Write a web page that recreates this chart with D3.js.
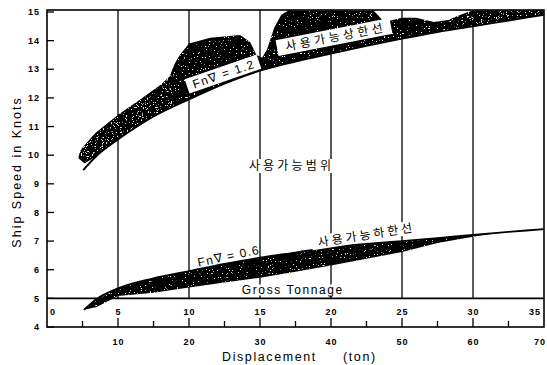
<!DOCTYPE html>
<html><head><meta charset="utf-8">
<script src="https://cdn.jsdelivr.net/npm/d3@7"></script>
<style>html,body{margin:0;padding:0;background:#fff;} svg{display:block;}</style>
</head><body><svg id="c" width="547" height="365"></svg>
<script>
// ---- data ----
const upperCurve = [[5.1,9.48],[7,9.98],[10,10.55],[15,11.35],[20,11.95],[25,12.5],[30,12.95],[35,13.27],[40,13.55],[45,13.82],[50,14.07],[55,14.3],[60,14.5],[65,14.7],[70,14.9]];
const lowerCurve = [[5.2,4.6],[7,4.98],[10,5.35],[15,5.7],[20,5.95],[25,6.2],[30,6.42],[35,6.6],[40,6.78],[45,6.9],[50,7.0],[55,7.1],[60,7.22],[65,7.32],[70,7.42]];
const upperBandTop = [[4.4,9.9],[4.8,10.2],[5.5,10.4],[6.8,10.77],[10,11.4],[13,11.92],[16,12.45],[17.3,12.75],[18,13.2],[18.7,13.5],[20,13.9],[23,14.1],[27.2,14.2],[28.6,13.95],[29.5,13.5],[30.3,13.4],[31,13.7],[32,14.45],[33,14.9],[34,15.05],[46,15.05],[47.5,14.65],[50,14.8],[52,14.8],[54.5,14.65],[56.5,14.72],[58.5,14.92],[60,15.05],[70,15.05]];
const upperBandBottom = [[4.4,9.9],[5.3,9.72],[7,9.98],[10,10.55],[15,11.35],[20,11.95],[25,12.5],[30,12.95],[35,13.27],[40,13.55],[45,13.82],[50,14.07],[55,14.3],[60,14.5],[65,14.7],[70,14.9]];
const lowerBandTop = [[5.2,4.6],[7,4.98],[10,5.35],[15,5.7],[20,5.95],[25,6.2],[30,6.42],[35,6.6],[40,6.78],[45,6.9],[50,7.0],[55,7.1],[60,7.22],[64,7.3]];
const lowerBandBottom = [[5.2,4.6],[7,4.7],[10,5.08],[15,5.2],[20,5.38],[25,5.55],[30,5.72],[35,5.93],[40,6.15],[45,6.38],[50,6.62],[55,6.93],[60,7.15],[64,7.3]];
const yTicks = [4,5,6,7,8,9,10,11,12,13,14,15];
const xMajor = [10,20,30,40,50,60,70];
const xMinor = [5,15,25,35,45,55,65];
const gridX = [10,20,30,40,50,60];
const gtLabels = [0,5,10,15,20,25,30,35];
const gtLevel = 5;

// ---- scales ----
const x = d3.scaleLinear().domain([0,70]).range([47,544]);
const y = d3.scaleLinear().domain([4,15]).range([327,12]);
const svg = d3.select('#c');
const defs = svg.append('defs');

function speckFilter(id, freq, k, b, seed){
  const f = defs.append('filter').attr('id',id).attr('filterUnits','userSpaceOnUse')
    .attr('x',0).attr('y',0).attr('width',547).attr('height',365);
  f.append('feTurbulence').attr('type','fractalNoise').attr('baseFrequency',freq).attr('numOctaves',2).attr('seed',seed).attr('result','noise');
  f.append('feColorMatrix').attr('in','noise').attr('type','matrix')
    .attr('values',`0 0 0 0 1  0 0 0 0 1  0 0 0 0 1  ${k} 0 0 0 ${b}`).attr('result','spots');
  f.append('feComposite').attr('in','spots').attr('in2','SourceAlpha').attr('operator','in').attr('result','clipped');
  const m = f.append('feMerge');
  m.append('feMergeNode').attr('in','SourceGraphic');
  m.append('feMergeNode').attr('in','clipped');
}
speckFilter('speck', 0.75, 16, -11.2, 3);
speckFilter('speckHeavy', 0.8, 11, -7.0, 9);

defs.append('clipPath').attr('id','leftPart').append('rect')
  .attr('x',0).attr('y',0).attr('width',x(17.8)).attr('height',365);
defs.append('clipPath').attr('id','rightPart').append('rect')
  .attr('x',x(57)).attr('y',0).attr('width',547).attr('height',365);

const line = d3.line().x(d=>x(d[0])).y(d=>y(d[1]));
const line2 = d3.line().x(d=>x(d[0])).y(d=>y(d[1])).curve(d3.curveMonotoneX);
const poly = (top,bot) => line(top.concat(bot.slice().reverse())) + 'Z';

// gridlines
svg.append('g').selectAll('line').data(gridX).join('line')
  .attr('x1',d=>x(d)).attr('x2',d=>x(d)).attr('y1',10).attr('y2',y(gtLevel))
  .attr('stroke','#000').attr('stroke-width',1.3);

// bands
const bands = [[upperBandTop,upperBandBottom],[lowerBandTop,lowerBandBottom]];
svg.append('g').selectAll('path').data(bands).join('path')
  .attr('d',d=>poly(d[0],d[1])).attr('fill','#000').attr('filter','url(#speck)');
svg.append('g').attr('clip-path','url(#leftPart)').append('path')
  .attr('d',poly(upperBandTop,upperBandBottom)).attr('fill','#000').attr('filter','url(#speckHeavy)');
svg.append('g').attr('clip-path','url(#rightPart)').append('path')
  .attr('d',poly(upperBandTop,upperBandBottom)).attr('fill','#000').attr('filter','url(#speckHeavy)');

// gross tonnage line
svg.append('line').attr('x1',x(0)).attr('x2',x(70)).attr('y1',y(gtLevel)).attr('y2',y(gtLevel))
  .attr('stroke','#000').attr('stroke-width',1.6);

// curves
svg.append('g').selectAll('path').data([upperCurve,lowerCurve]).join('path')
  .attr('d',d=>line2(d)).attr('fill','none').attr('stroke','#000').attr('stroke-width',1.8);

// frame
svg.append('rect').attr('x',x(0)).attr('y',10).attr('width',x(70)-x(0)).attr('height',y(4)-10)
  .attr('fill','none').attr('stroke','#000').attr('stroke-width',1.6);

// y ticks
svg.append('g').selectAll('line').data(yTicks).join('line')
  .attr('x1',x(0)).attr('x2',x(0)+7).attr('y1',d=>y(d)).attr('y2',d=>y(d))
  .attr('stroke','#000').attr('stroke-width',1.3);
svg.append('g').selectAll('text').data(yTicks).join('text')
  .attr('x',40).attr('y',d=>y(d)).attr('dy','0.35em').attr('text-anchor','end')
  .attr('font-family','Liberation Sans, Arial, sans-serif').attr('font-size',9).attr('font-weight','bold')
  .attr('letter-spacing',1).text(d=>d);

// x ticks
svg.append('g').selectAll('line').data(xMajor.filter(d=>d<70)).join('line')
  .attr('x1',d=>x(d)).attr('x2',d=>x(d)).attr('y1',y(4)).attr('y2',y(4)-9)
  .attr('stroke','#000').attr('stroke-width',1.3);
svg.append('g').selectAll('line').data(xMinor).join('line')
  .attr('x1',d=>x(d)).attr('x2',d=>x(d)).attr('y1',y(4)).attr('y2',y(4)-6)
  .attr('stroke','#000').attr('stroke-width',1.3);
svg.append('g').selectAll('text').data(xMajor).join('text')
  .attr('x',d=>d===70?x(d)+2:x(d)+0.5).attr('y',345).attr('text-anchor',d=>d===70?'end':'middle')
  .attr('font-family','Liberation Sans, Arial, sans-serif').attr('font-size',9).attr('font-weight','bold')
  .attr('letter-spacing',1).text(d=>d);

// gross tonnage labels
svg.append('g').selectAll('text').data(gtLabels).join('text')
  .attr('x',d=>d===0?x(0)+6:(d===35?x(70)-9:x(d*2)+0.5)).attr('y',315).attr('text-anchor','middle')
  .attr('font-family','Liberation Sans, Arial, sans-serif').attr('font-size',9).attr('font-weight','bold')
  .attr('letter-spacing',1).text(d=>d);

// axis titles
const tfont = 'Liberation Sans, Arial, sans-serif';
svg.append('text').attr('x',222).attr('y',361).attr('font-family',tfont).attr('font-size',12.5)
  .attr('letter-spacing',1.6).text('Displacement');
svg.append('text').attr('x',343).attr('y',361).attr('font-family',tfont).attr('font-size',12.5)
  .attr('letter-spacing',1.6).text('(ton)');
svg.append('text').attr('transform','translate(21,172) rotate(-90)').attr('text-anchor','middle')
  .attr('font-family',tfont).attr('font-size',12.5).attr('letter-spacing',2).text('Ship Speed in Knots');

// labels
const kfont = 'Noto Sans CJK KR, sans-serif';
function boxLabel(cx,cy,ang,w,h,txt,font,size,ls,box){
  const g = svg.append('g').attr('transform',`translate(${cx},${cy}) rotate(${ang})`);
  if(box) g.append('rect').attr('x',-w/2).attr('y',-h/2).attr('width',w).attr('height',h).attr('fill','#fff');
  g.append('text').attr('x',ls/2).attr('y',0).attr('dy','0.36em').attr('text-anchor','middle')
    .attr('font-family',font).attr('font-size',size).attr('letter-spacing',ls).text(txt);
}
boxLabel(223,74,-19,76,15,'Fn\u2207 = 1.2',tfont,12,1.4,true);
boxLabel(334,37,-11,116,16,'사용가능상한선',kfont,12,3.6,true);
boxLabel(290,166,0,90,14,'사용가능범위',kfont,12,3.2,true);
boxLabel(365,235,-9,108,14,'사용가능하한선',kfont,12,3.0,true);
boxLabel(228,256,-12,70,12,'Fn\u2207 = 0.6',tfont,12,1.2,false);
boxLabel(292,290,0,112,11,'Gross Tonnage',tfont,12,1.6,true);
</script></body></html>
